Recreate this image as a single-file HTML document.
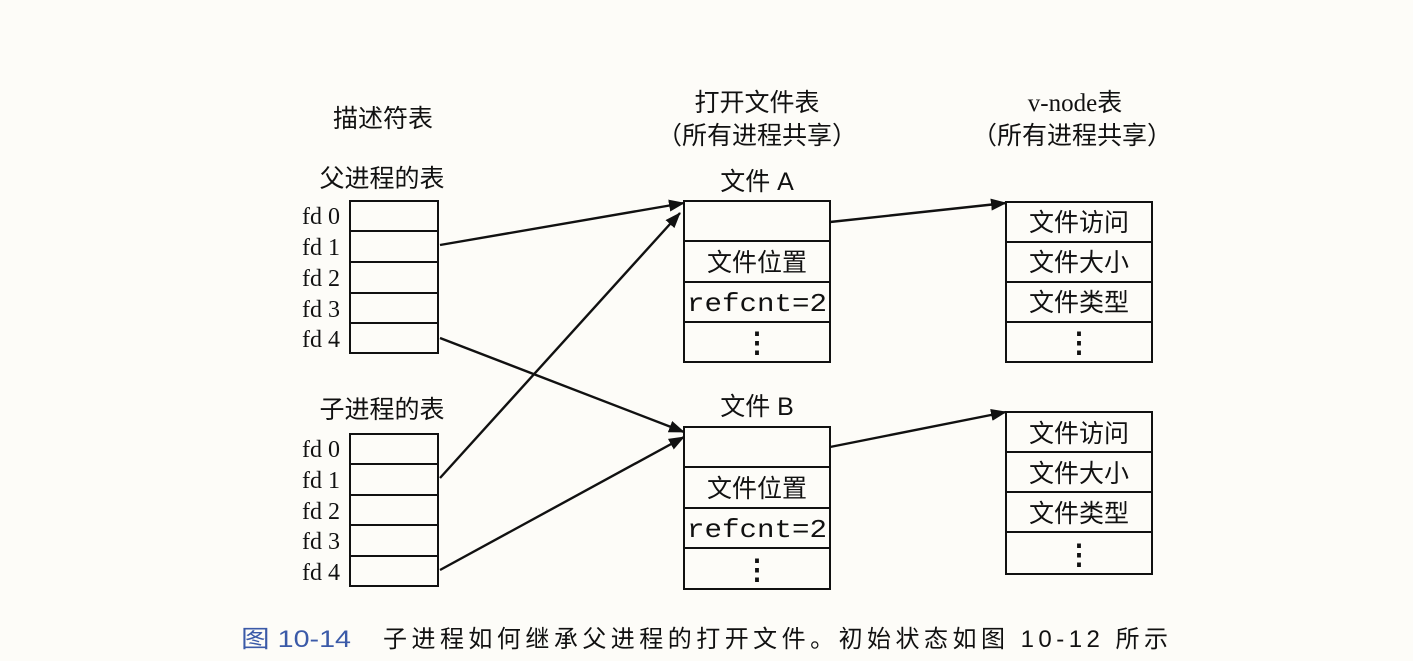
<!DOCTYPE html>
<html><head><meta charset="utf-8"><style>
html,body{margin:0;padding:0;background:#fdfcf8;}
svg{display:block;}
text{font-family:"Liberation Serif","Noto Serif CJK SC","Noto Sans CJK SC",serif;fill:#111;}
.cj{font-family:"Liberation Sans","Noto Sans CJK SC",sans-serif;}
.mono{font-family:"Liberation Mono",monospace;}
</style></head><body>
<svg width="1413" height="661" viewBox="0 0 1413 661" xmlns="http://www.w3.org/2000/svg">
<defs><marker id="a" markerWidth="16" markerHeight="12" refX="15" refY="6" orient="auto" markerUnits="userSpaceOnUse"><path d="M0,0 L16,6 L0,12 Z" fill="#111"/></marker></defs>
<g font-size="25" text-anchor="middle">
<text class="cj" x="383" y="127">描述符表</text>
<text class="cj" x="382" y="187">父进程的表</text>
<text class="cj" x="382" y="418">子进程的表</text>
<text class="cj" x="757" y="111">打开文件表</text>
<text class="cj" x="757" y="144">（所有进程共享）</text>
<text class="cj" x="757" y="190">文件 A</text>
<text class="cj" x="757" y="415">文件 B</text>
<text x="1075" y="111">v-node<tspan class="cj">表</tspan></text>
<text class="cj" x="1072" y="144">（所有进程共享）</text>
</g>
<g fill="none" stroke="#111" stroke-width="2">
<rect x="350" y="201" width="88" height="152"/>
<line x1="350" y1="231" x2="438" y2="231"/><line x1="350" y1="262" x2="438" y2="262"/><line x1="350" y1="293" x2="438" y2="293"/><line x1="350" y1="323" x2="438" y2="323"/>
<rect x="350" y="434" width="88" height="152"/>
<line x1="350" y1="464" x2="438" y2="464"/><line x1="350" y1="495" x2="438" y2="495"/><line x1="350" y1="525" x2="438" y2="525"/><line x1="350" y1="556" x2="438" y2="556"/>
<rect x="684" y="201" width="146" height="161"/>
<line x1="684" y1="241" x2="830" y2="241"/><line x1="684" y1="282" x2="830" y2="282"/><line x1="684" y1="322" x2="830" y2="322"/>
<rect x="684" y="427" width="146" height="162"/>
<line x1="684" y1="467" x2="830" y2="467"/><line x1="684" y1="508" x2="830" y2="508"/><line x1="684" y1="548" x2="830" y2="548"/>
<rect x="1006" y="202" width="146" height="160"/>
<line x1="1006" y1="242" x2="1152" y2="242"/><line x1="1006" y1="282" x2="1152" y2="282"/><line x1="1006" y1="322" x2="1152" y2="322"/>
<rect x="1006" y="412" width="146" height="162"/>
<line x1="1006" y1="452" x2="1152" y2="452"/><line x1="1006" y1="492" x2="1152" y2="492"/><line x1="1006" y1="532" x2="1152" y2="532"/>
</g>
<g stroke="#111" stroke-width="2.4" fill="none" marker-end="url(#a)">
<line x1="440" y1="245" x2="684" y2="203"/>
<line x1="440" y1="338" x2="684" y2="432"/>
<line x1="440" y1="478" x2="680" y2="213"/>
<line x1="440" y1="570" x2="684" y2="437"/>
<line x1="830" y1="222" x2="1006" y2="203"/>
<line x1="830" y1="447" x2="1006" y2="412"/>
</g>
<g font-size="24" text-anchor="end">
<text x="340" y="224">fd 0</text><text x="340" y="255">fd 1</text><text x="340" y="286">fd 2</text><text x="340" y="317">fd 3</text><text x="340" y="347">fd 4</text>
<text x="340" y="457">fd 0</text><text x="340" y="488">fd 1</text><text x="340" y="519">fd 2</text><text x="340" y="549">fd 3</text><text x="340" y="580">fd 4</text>
</g>
<g font-size="25" text-anchor="middle">
<text class="cj" x="757" y="271">文件位置</text>
<text class="mono" x="757" y="311" font-size="26" textLength="140" lengthAdjust="spacingAndGlyphs">refcnt=2</text>
<text x="757" y="352" font-size="28" font-weight="bold">⋮</text>
<text class="cj" x="757" y="497">文件位置</text>
<text class="mono" x="757" y="537" font-size="26" textLength="140" lengthAdjust="spacingAndGlyphs">refcnt=2</text>
<text x="757" y="579" font-size="28" font-weight="bold">⋮</text>
<text class="cj" x="1079" y="231">文件访问</text>
<text class="cj" x="1079" y="271">文件大小</text>
<text class="cj" x="1079" y="311">文件类型</text>
<text x="1079" y="352" font-size="28" font-weight="bold">⋮</text>
<text class="cj" x="1079" y="442">文件访问</text>
<text class="cj" x="1079" y="482">文件大小</text>
<text class="cj" x="1079" y="522">文件类型</text>
<text x="1079" y="564" font-size="28" font-weight="bold">⋮</text>
</g>
<text class="cj" x="241" y="647" font-size="24" style="fill:#3b5aa8" textLength="110" lengthAdjust="spacingAndGlyphs">图 10-14</text>
<text class="cj" x="383" y="647" font-size="24" textLength="785" lengthAdjust="spacing">子进程如何继承父进程的打开文件。初始状态如图 10-12 所示</text>
</svg>
</body></html>
